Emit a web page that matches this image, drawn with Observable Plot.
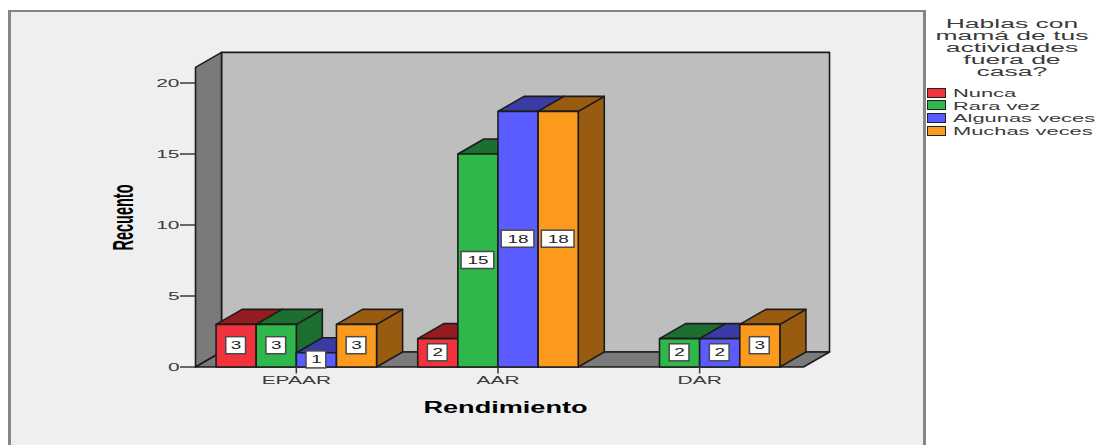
<!DOCTYPE html>
<html lang="es">
<head>
<meta charset="utf-8">
<script src="https://cdn.jsdelivr.net/npm/d3@7"></script>
<script src="https://cdn.jsdelivr.net/npm/@observablehq/plot@0.6"></script>
<style>
  html, body { margin: 0; padding: 0; background: #fff; }
  #chart { position: relative; width: 1099px; height: 445px; overflow: hidden; font-family: "Liberation Sans", Arial, sans-serif; }
  #panel { position: absolute; left: 8px; top: 10px; width: 912px; height: 440px; background: #efefef; border: 3px solid #858585; border-top-width: 2px; }
  #chart svg { position: absolute; left: 0; top: 0; }
  #legend { position: absolute; left: 925px; top: 0; width: 174px; height: 445px; color: #3a3a3a; }
  .ltitle { position: absolute; left: 0; width: 174px; text-align: center; font-size: 12.5px; line-height: 12px; transform: scaleX(2.12); transform-origin: 87px 0; white-space: nowrap; }
  .swatch { position: absolute; left: 2px; width: 17px; height: 8px; border: 1.5px solid #222; }
  .litem { position: absolute; left: 28px; font-size: 11.5px; line-height: 12px; transform: scaleX(1.9); transform-origin: 0 0; white-space: nowrap; }
</style>
</head>
<body>
<div id="chart"><div id="panel"></div><div id="legend"></div></div>
<script>
const categories = ["EPAAR", "AAR", "DAR"];
const seriesNames = ["Nunca", "Rara vez", "Algunas veces", "Muchas veces"];
const nunca = [3, 2, 0];
const raraVez = [3, 15, 2];
const algunasVeces = [1, 18, 2];
const muchasVeces = [3, 18, 3];
const yTicks = [0, 5, 10, 15, 20];
const legendTitle = ["Hablas con", "mamá de tus", "actividades", "fuera de", "casa?"];

const frontColors = ["#f2323c", "#2eb84c", "#5a5cff", "#fb9a1c"];
const shadeColors = ["#941c21", "#1c6f2f", "#3a3ca3", "#985b10"];
const wallSide = "#7a7a7a", wallBack = "#bebebe";
const seriesValues = [nunca, raraVez, algunasVeces, muchasVeces];

// Oblique depth, in axis units
const depthX = 0.129, depthY = 1.056;
const xMin = -0.5, xMax = 2.515, wallTop = 21.1;
const barW = 0.199;

const faces = [];
function face(id, fill, pts, strokeColor = "#1c1c1c") {
  pts.forEach(([x, y]) => faces.push({id, fill, x, y, strokeColor}));
}
face("back", wallBack, [[xMin + depthX, depthY], [xMax + depthX, depthY], [xMax + depthX, wallTop + depthY], [xMin + depthX, wallTop + depthY]]);
face("left", wallSide, [[xMin, 0], [xMin, wallTop], [xMin + depthX, wallTop + depthY], [xMin + depthX, depthY]]);
face("floor", wallSide, [[xMin, 0], [xMax, 0], [xMax + depthX, depthY], [xMin + depthX, depthY]]);

const labels = [];
categories.forEach((cat, i) => {
  seriesValues.forEach((vals, j) => {
    const v = vals[i];
    if (!v) return;
    const x0 = i + (j - 2) * barW, x1 = x0 + barW;
    const id = `${i}-${j}`;
    face(id + "s", shadeColors[j], [[x1, 0], [x1 + depthX, depthY], [x1 + depthX, v + depthY], [x1, v]]);
    face(id + "t", shadeColors[j], [[x0, v], [x1, v], [x1 + depthX, v + depthY], [x0 + depthX, v + depthY]]);
    face(id + "f", frontColors[j], [[x0, 0], [x1, 0], [x1, v], [x0, v]]);
    labels.push({x: (x0 + x1) / 2, y: v / 2, v});
  });
});

const boxHalfY = 0.6;
const boxHalfX = d => d.v >= 10 ? 0.081 : 0.049;

const plot = Plot.plot({
  width: 925, height: 445,
  marginLeft: 195, marginRight: 122, marginTop: 82.5, marginBottom: 78.5,
  x: {domain: [xMin, xMax]},
  y: {domain: [0, 20]},
  color: {type: "identity"},
  style: {background: "transparent", fontFamily: "'Liberation Sans', Arial, sans-serif", fontSize: "11px", color: "#3a3a3a"},
  marks: [
    Plot.line(faces, {x: "x", y: "y", z: "id", fill: "fill", stroke: "strokeColor", strokeWidth: 1.6, curve: "linear-closed", strokeLinejoin: "round"}),
    Plot.rect(labels, {x1: d => d.x - boxHalfX(d), x2: d => d.x + boxHalfX(d), y1: d => d.y - boxHalfY, y2: d => d.y + boxHalfY, fill: "#fff", stroke: "#4a4a4a", strokeWidth: 1.5}),
    Plot.text(labels, {x: "x", y: "y", text: d => String(d.v), fill: "#222", fontSize: 11, className: "value-label"}),
    Plot.axisY({ticks: yTicks, tickSize: 15, tickPadding: 1, label: null, strokeWidth: 1.5, fontSize: 11, className: "tick-label"}),
    Plot.axisX({ticks: [0, 1, 2], tickFormat: i => categories[i], tickSize: 7, tickPadding: 2, label: null, strokeWidth: 1.5, fontSize: 11, className: "tick-label"}),
    Plot.text(["Rendimiento"], {text: d => d, frameAnchor: "bottom", dx: 6, dy: 46, fontSize: 16, fontWeight: "bold", fill: "#000", className: "ax-x"}),
    Plot.text(["Recuento"], {text: d => d, frameAnchor: "left", rotate: -90, dx: -72, dy: 25.5, fontSize: 29, fontWeight: "bold", fill: "#000", className: "ax-y"})
  ]
});
document.getElementById("chart").appendChild(plot);

// The reference was resized unevenly, so its text is stretched along the baseline
function stretch(sel, fn) {
  plot.querySelectorAll(sel).forEach(t => {
    t.setAttribute("textLength", fn(t));
    t.setAttribute("lengthAdjust", "spacingAndGlyphs");
  });
}
stretch("text.tick-label, .tick-label text", t => t.getComputedTextLength() * 1.9);
stretch("text.value-label, .value-label text", t => t.getComputedTextLength() * 1.72);
stretch("text.ax-x, .ax-x text", () => 164);
stretch("text.ax-y, .ax-y text", () => 66);

const legend = document.getElementById("legend");
legendTitle.forEach((line, i) => {
  const d = document.createElement("div");
  d.className = "ltitle";
  d.style.top = (17.5 + i * 12.2) + "px";
  d.textContent = line;
  legend.appendChild(d);
});
seriesNames.forEach((name, j) => {
  const s = document.createElement("div");
  s.className = "swatch";
  s.style.top = (87.5 + j * 12.7) + "px";
  s.style.background = frontColors[j];
  legend.appendChild(s);
  const t = document.createElement("div");
  t.className = "litem";
  t.style.top = (87 + j * 12.7) + "px";
  t.textContent = name;
  legend.appendChild(t);
});
</script>
</body>
</html>
